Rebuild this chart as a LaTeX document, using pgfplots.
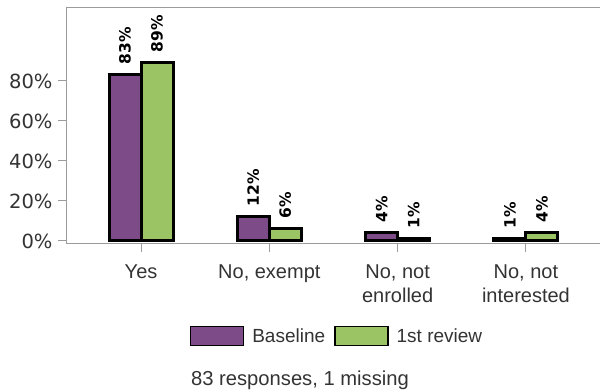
\documentclass[border=0pt]{standalone}
\usepackage{pgfplots}
\pgfplotsset{compat=1.18}
\usepackage{fontspec}
\setmainfont{Liberation Sans}
\newfontfamily\dejavu{DejaVu Sans}
\definecolor{cpurple}{RGB}{125,75,135}
\definecolor{cgreen}{RGB}{155,197,100}
\definecolor{axgray}{RGB}{155,155,155}
\definecolor{txt}{RGB}{51,51,51}
\pgfplotsset{
  mylegend/.style={legend image code/.code={\draw[##1, draw=black, line width=1.5bp] (0bp,-9.5bp) rectangle (53bp,9.5bp);}}
}
\begin{document}
\begin{tikzpicture}
\useasboundingbox (0,0) rectangle (600bp,390bp);
\begin{axis}[
  at={(66bp,146.5bp)}, anchor=south west,
  scale only axis, width=536bp, height=235.5bp,
  xmin=-0.585, xmax=3.593, ymin=-1.25, ymax=116.5,
  ybar=0pt, bar width=32bp,
  clip=false,
  axis line style={axgray, line width=1bp},
  tick style={axgray, line width=1bp},
  major tick length=8bp,
  tick align=outside,
  xtick pos=bottom, ytick pos=left,
  xtick={0,1,2,3},
  xticklabels={Yes, {No, exempt}, {No, not\\enrolled}, {No, not\\interested}},
  xticklabel style={font=\fontsize{20bp}{23.6bp}\selectfont, align=center, text=txt, yshift=-10bp},
  ytick={0,20,40,60,80},
  yticklabels={0\%,20\%,40\%,60\%,80\%},
  yticklabel style={font=\dejavu\fontsize{19.5bp}{21bp}\selectfont, text=txt, xshift=-2bp},
  /pgf/number format/assume math mode=true,
  nodes near coords={\pgfmathprintnumber{\pgfplotspointmeta}\%},
  nodes near coords style={rotate=90, anchor=west, font=\dejavu\bfseries\fontsize{15.5bp}{17bp}\selectfont, inner xsep=9bp, inner ysep=0bp, black},
  every axis plot/.append style={draw=black, line width=3bp},
  legend style={at={(0.5056,-0.393)}, anchor=center, draw=none, legend columns=2,
    font=\fontsize{19bp}{22bp}\selectfont, text=txt,
    /tikz/every odd column/.append style={column sep=6bp},
    /tikz/every even column/.append style={column sep=7bp}},
]
\addplot[fill=cpurple, mylegend] coordinates {(0,83) (1,12) (2,4) (3,1)};
\addplot[fill=cgreen, mylegend] coordinates {(0,89) (1,6) (2,1) (3,4)};
\legend{Baseline, 1st review}
\end{axis}
\node[font=\fontsize{20.2bp}{24bp}\selectfont, text=txt, anchor=base] at (300bp,5bp) {83 responses, 1 missing};
\end{tikzpicture}
\end{document}
